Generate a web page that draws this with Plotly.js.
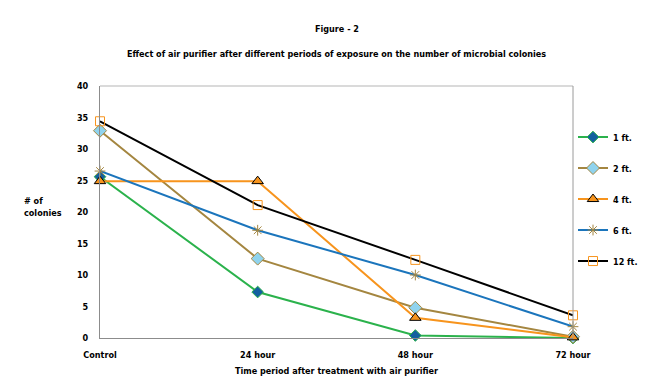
<!DOCTYPE html>
<html><head><meta charset="utf-8">
<script src="https://cdn.plot.ly/plotly-3.0.1.min.js"></script>
<style>html,body{margin:0;padding:0;background:#fff}</style>
</head><body>
<div id="chart" style="width:650px;height:386px"></div>
<script>
const categories = ["Control", "24 hour", "48 hour", "72 hour"];
const seriesNames = ["1 ft.", "2 ft.", "4 ft.", "6 ft.", "12 ft."];
const ft1 = [25.6, 7.3, 0.4, 0.0];
const ft2 = [32.9, 12.6, 4.8, 0.2];
const ft4 = [24.9, 24.9, 3.2, 0.1];
const ft6 = [26.5, 17.1, 10.0, 1.8];
const ft12 = [34.4, 21.1, 12.4, 3.6];
const yTicks = [0, 5, 10, 15, 20, 25, 30, 35, 40];

const FONT = "'DejaVu Sans Condensed', 'Open Sans', Arial, sans-serif";
const styles = [
  {line:'#2bb24c', sym:'diamond', fill:'#13609f', edge:'#2bb24c', size:9},
  {line:'#a48640', sym:'diamond', fill:'#8fd3ee', edge:'#a48640', size:10},
  {line:'#f7941d', sym:'triangle-up', fill:'#f7941d', edge:'#000000', size:10},
  {line:'#1b75bc', sym:'asterisk-open', fill:'#a48640', edge:'#a48640', size:9},
  {line:'#000000', sym:'square-open', fill:'#f7941d', edge:'#f7941d', size:9}
];
const data = [ft1, ft2, ft4, ft6, ft12].map((vals, i) => ({
  type:'scatter', mode:'lines+markers', x:categories, y:vals, name:seriesNames[i],
  legendgroup:'g'+i, cliponaxis:false,
  line:{color:styles[i].line, width:2},
  marker:{symbol:styles[i].sym, size:styles[i].size, color:styles[i].fill,
          line:{color:styles[i].edge, width:1}}
}));

const layout = {
  width:650, height:386,
  margin:{l:100, r:77, t:86, b:48, autoexpand:false},
  paper_bgcolor:'#fff', plot_bgcolor:'#fff',
  font:{family:FONT, size:9, color:'#000'},
  showlegend:true,
  legend:{x:1.0, xanchor:'left', y:0.855, yanchor:'top', tracegroupgap:12, itemwidth:30,
          font:{family:FONT, size:9, color:'#000', weight:'bold'}, bgcolor:'rgba(0,0,0,0)'},
  xaxis:{type:'category', range:[0,3], showgrid:false, zeroline:false,
         showline:true, linecolor:'#8c8c8c', linewidth:1, mirror:false,
         ticks:'', ticklabelstandoff:8,
         tickfont:{family:FONT, size:9, weight:'bold'},
         title:{text:'Time period after treatment with air purifier', standoff:8,
                font:{family:FONT, size:9, weight:'bold'}}},
  yaxis:{range:[0,40], tickvals:yTicks, ticktext:yTicks.map(String), showgrid:false, zeroline:false,
         showline:true, linecolor:'#8c8c8c', linewidth:1, ticks:'', ticklabelstandoff:9,
         tickfont:{family:FONT, size:9, weight:'bold'}},
  shapes:[
    {type:'line', xref:'paper', yref:'paper', x0:0, x1:1, y0:1, y1:1, line:{color:'#b5b5b5', width:1}},
    {type:'line', xref:'paper', yref:'paper', x0:1, x1:1, y0:0, y1:1, line:{color:'#9a9a9a', width:1}}
  ],
  annotations:[
    {text:'<b>Figure - 2</b>', xref:'paper', yref:'paper', x:0.5, y:1, yshift:57, showarrow:false,
     xanchor:'center', yanchor:'middle', font:{family:FONT, size:9}},
    {text:'<b>Effect of air purifier after different periods of exposure on the number of microbial colonies</b>',
     xref:'paper', yref:'paper', x:0.5, y:1, yshift:32, showarrow:false, xanchor:'center', yanchor:'middle',
     font:{family:FONT, size:9}},
    {text:'<b># of<br>colonies</b>', xref:'paper', yref:'paper', x:0, xshift:-78, y:0.52,
     showarrow:false, xanchor:'left', align:'left', font:{family:FONT, size:9}}
  ]
};
Plotly.newPlot('chart', data, layout, {displayModeBar:false, staticPlot:true});
</script>
</body></html>
